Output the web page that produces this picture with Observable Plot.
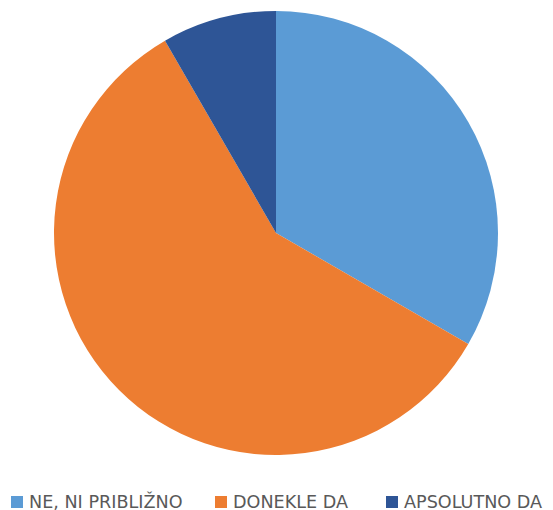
<!DOCTYPE html>
<html>
<head>
<meta charset="utf-8">
<script src="https://cdn.jsdelivr.net/npm/d3@7"></script>
<script src="https://cdn.jsdelivr.net/npm/@observablehq/plot@0.6"></script>
<style>
  html, body { margin: 0; padding: 0; background: #fff; }
  #chart { width: 553px; height: 510px; position: relative; overflow: hidden; }
  #chart svg { display: block; }
</style>
</head>
<body>
<div id="chart"></div>
<script>
const categories = ["NE, NI PRIBLIŽNO", "DONEKLE DA", "APSOLUTNO DA"];
const values = [4, 7, 1];
const colors = ["#5B9BD5", "#ED7D31", "#2E5596"];

const data = categories.map((c, i) => ({category: c, value: values[i]}));
const color = Plot.scale({color: {domain: categories, range: colors}});

const W = 553, H = 470;
const cx = 276, cy = 233, R = 222;

const pieMark = (index, scales, vals, dimensions) => {
  const arcs = d3.pie().sort(null).value(d => d.value)(data);
  const arc = d3.arc().innerRadius(0).outerRadius(R);
  const g = d3.create("svg:g").attr("transform", `translate(${cx},${cy})`);
  g.selectAll("path").data(arcs).join("path")
    .attr("d", arc)
    .attr("fill", d => color.apply(d.data.category))
    .attr("stroke", "none");
  return g.node();
};

const plot = Plot.plot({
  width: W,
  height: H,
  margin: 0,
  x: {axis: null, domain: [0, 1]},
  y: {axis: null, domain: [0, 1]},
  marks: [pieMark]
});

const chart = document.getElementById("chart");
chart.appendChild(plot);

// legend
const legendX = [11, 215, 386];
const lg = d3.create("svg").attr("width", W).attr("height", 40);
const items = lg.selectAll("g").data(categories).join("g")
  .attr("transform", (d, i) => `translate(${legendX[i]},0)`);
items.append("rect")
  .attr("x", 0).attr("y", 26).attr("width", 12).attr("height", 12)
  .attr("fill", d => color.apply(d));
items.append("text")
  .attr("x", 18).attr("y", 37.5)
  .attr("font-family", "'DejaVu Sans', sans-serif")
  .attr("font-size", 17.6)
  .attr("fill", "#595959")
  .text(d => d);
chart.appendChild(lg.node());
</script>
</body>
</html>
